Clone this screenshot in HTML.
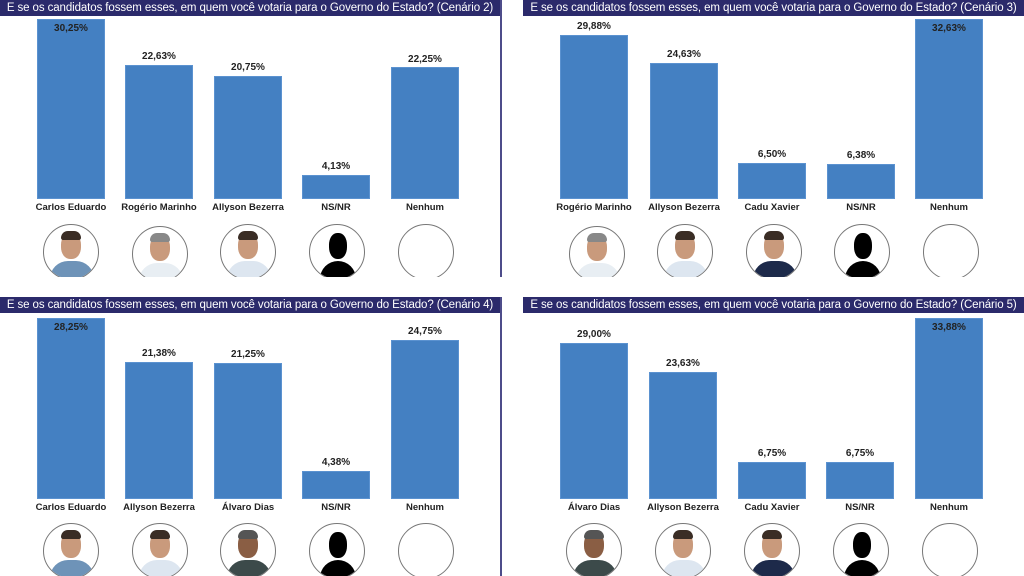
<!DOCTYPE html>
<html><head><meta charset="utf-8"><style>
html,body{margin:0;padding:0;background:#fff;width:1024px;height:576px;overflow:hidden;position:relative;font-family:"Liberation Sans Narrow","Liberation Sans",sans-serif}
.h{position:absolute;height:16px;background:#2b2a6b;color:#fff;font-size:11.5px;line-height:16px;text-align:center;white-space:nowrap;letter-spacing:-0.1px}
.b{position:absolute;width:68px;background:#4480c2;border:1px solid #5b92d0;box-sizing:border-box}
.v{position:absolute;width:90px;text-align:center;font-size:10px;font-weight:bold;color:#222}
.l{position:absolute;width:110px;text-align:center;font-size:9.5px;font-weight:bold;color:#222}
.c{position:absolute;width:56px;height:56px;border:1.5px solid #777;border-radius:50%;box-sizing:border-box;overflow:hidden;background:#fff}
.c .hd{position:absolute;left:17px;top:8px;width:20px;height:26px;border-radius:45%;background:#c99a7c}
.c .hr{position:absolute;left:17px;top:6px;width:20px;height:9px;border-radius:10px 10px 3px 3px;background:#3a2d25}
.c .sh{position:absolute;left:6px;top:36px;width:44px;height:24px;border-radius:18px 18px 0 0;background:#6e93b8}
.c.s .hd{background:#000;left:19px;width:18px}
.c.s .hr{display:none}
.c.s .sh{background:#000;left:10px;width:36px}
.vl{position:absolute;left:500px;width:1.5px;background:#4d4c8a}
.cut{position:absolute;left:0;width:1024px;background:#fff}
</style></head><body>

<div class="h" style="left:0;top:0;width:500px">E se os candidatos fossem esses, em quem você votaria para o Governo do Estado? (Cenário 2)</div>
<div class="h" style="left:523px;top:0;width:501px">E se os candidatos fossem esses, em quem você votaria para o Governo do Estado? (Cenário 3)</div>
<div class="h" style="left:0;top:297px;width:500px">E se os candidatos fossem esses, em quem você votaria para o Governo do Estado? (Cenário 4)</div>
<div class="h" style="left:523px;top:297px;width:501px">E se os candidatos fossem esses, em quem você votaria para o Governo do Estado? (Cenário 5)</div>
<div class="vl" style="top:0;height:277px"></div>
<div class="vl" style="top:297px;height:279px"></div>

<!-- TL -->
<div class="b" style="left:37px;top:19px;height:180px"></div><div class="v" style="left:26px;top:23px">30,25%</div>
<div class="b" style="left:125px;top:65px;height:134px"></div><div class="v" style="left:114px;top:51px">22,63%</div>
<div class="b" style="left:214px;top:76px;height:123px"></div><div class="v" style="left:203px;top:62px">20,75%</div>
<div class="b" style="left:302px;top:175px;height:24px"></div><div class="v" style="left:291px;top:161px">4,13%</div>
<div class="b" style="left:391px;top:67px;height:132px"></div><div class="v" style="left:380px;top:54px">22,25%</div>
<div class="l" style="left:16px;top:202px">Carlos Eduardo</div>
<div class="l" style="left:104px;top:202px">Rogério Marinho</div>
<div class="l" style="left:193px;top:202px">Allyson Bezerra</div>
<div class="l" style="left:281px;top:202px">NS/NR</div>
<div class="l" style="left:370px;top:202px">Nenhum</div>
<div class="c" style="left:43px;top:224px"><div class="sh"></div><div class="hd"></div><div class="hr"></div></div>
<div class="c" style="left:132px;top:226px"><div class="sh" style="background:#e8eef3"></div><div class="hd"></div><div class="hr" style="background:#888"></div></div>
<div class="c" style="left:220px;top:224px"><div class="sh" style="background:#dde6f0"></div><div class="hd"></div><div class="hr"></div></div>
<div class="c s" style="left:309px;top:224px"><div class="sh"></div><div class="hd"></div></div>
<div class="c" style="left:398px;top:224px"></div>

<!-- TR -->
<div class="b" style="left:560px;top:35px;height:164px"></div><div class="v" style="left:549px;top:21px">29,88%</div>
<div class="b" style="left:650px;top:63px;height:136px"></div><div class="v" style="left:639px;top:49px">24,63%</div>
<div class="b" style="left:738px;top:163px;height:36px"></div><div class="v" style="left:727px;top:149px">6,50%</div>
<div class="b" style="left:827px;top:164px;height:35px"></div><div class="v" style="left:816px;top:150px">6,38%</div>
<div class="b" style="left:915px;top:19px;height:180px"></div><div class="v" style="left:904px;top:23px">32,63%</div>
<div class="l" style="left:539px;top:202px">Rogério Marinho</div>
<div class="l" style="left:629px;top:202px">Allyson Bezerra</div>
<div class="l" style="left:717px;top:202px">Cadu Xavier</div>
<div class="l" style="left:806px;top:202px">NS/NR</div>
<div class="l" style="left:894px;top:202px">Nenhum</div>
<div class="c" style="left:569px;top:226px"><div class="sh" style="background:#e8eef3"></div><div class="hd"></div><div class="hr" style="background:#888"></div></div>
<div class="c" style="left:657px;top:224px"><div class="sh" style="background:#dde6f0"></div><div class="hd"></div><div class="hr"></div></div>
<div class="c" style="left:746px;top:224px"><div class="sh" style="background:#1d2a4a"></div><div class="hd"></div><div class="hr"></div></div>
<div class="c s" style="left:834px;top:224px"><div class="sh"></div><div class="hd"></div></div>
<div class="c" style="left:923px;top:224px"></div>

<!-- BL -->
<div class="b" style="left:37px;top:318px;height:181px"></div><div class="v" style="left:26px;top:322px">28,25%</div>
<div class="b" style="left:125px;top:362px;height:137px"></div><div class="v" style="left:114px;top:348px">21,38%</div>
<div class="b" style="left:214px;top:363px;height:136px"></div><div class="v" style="left:203px;top:349px">21,25%</div>
<div class="b" style="left:302px;top:471px;height:28px"></div><div class="v" style="left:291px;top:457px">4,38%</div>
<div class="b" style="left:391px;top:340px;height:159px"></div><div class="v" style="left:380px;top:326px">24,75%</div>
<div class="l" style="left:16px;top:502px">Carlos Eduardo</div>
<div class="l" style="left:104px;top:502px">Allyson Bezerra</div>
<div class="l" style="left:193px;top:502px">Álvaro Dias</div>
<div class="l" style="left:281px;top:502px">NS/NR</div>
<div class="l" style="left:370px;top:502px">Nenhum</div>
<div class="c" style="left:43px;top:523px"><div class="sh"></div><div class="hd"></div><div class="hr"></div></div>
<div class="c" style="left:132px;top:523px"><div class="sh" style="background:#dde6f0"></div><div class="hd"></div><div class="hr"></div></div>
<div class="c" style="left:220px;top:523px"><div class="sh" style="background:#3c4a4a"></div><div class="hd" style="background:#8a5e44"></div><div class="hr" style="background:#555"></div></div>
<div class="c s" style="left:309px;top:523px"><div class="sh"></div><div class="hd"></div></div>
<div class="c" style="left:398px;top:523px"></div>

<!-- BR -->
<div class="b" style="left:560px;top:343px;height:156px"></div><div class="v" style="left:549px;top:329px">29,00%</div>
<div class="b" style="left:649px;top:372px;height:127px"></div><div class="v" style="left:638px;top:358px">23,63%</div>
<div class="b" style="left:738px;top:462px;height:37px"></div><div class="v" style="left:727px;top:448px">6,75%</div>
<div class="b" style="left:826px;top:462px;height:37px"></div><div class="v" style="left:815px;top:448px">6,75%</div>
<div class="b" style="left:915px;top:318px;height:181px"></div><div class="v" style="left:904px;top:322px">33,88%</div>
<div class="l" style="left:539px;top:502px">Álvaro Dias</div>
<div class="l" style="left:628px;top:502px">Allyson Bezerra</div>
<div class="l" style="left:717px;top:502px">Cadu Xavier</div>
<div class="l" style="left:805px;top:502px">NS/NR</div>
<div class="l" style="left:894px;top:502px">Nenhum</div>
<div class="c" style="left:566px;top:523px"><div class="sh" style="background:#3c4a4a"></div><div class="hd" style="background:#8a5e44"></div><div class="hr" style="background:#555"></div></div>
<div class="c" style="left:655px;top:523px"><div class="sh" style="background:#dde6f0"></div><div class="hd"></div><div class="hr"></div></div>
<div class="c" style="left:744px;top:523px"><div class="sh" style="background:#1d2a4a"></div><div class="hd"></div><div class="hr"></div></div>
<div class="c s" style="left:833px;top:523px"><div class="sh"></div><div class="hd"></div></div>
<div class="c" style="left:922px;top:523px"></div>

<div class="cut" style="top:277px;height:20px"></div>
<div style="position:absolute;left:500px;top:0;width:23px;height:576px;background:transparent"></div>
</body></html>
